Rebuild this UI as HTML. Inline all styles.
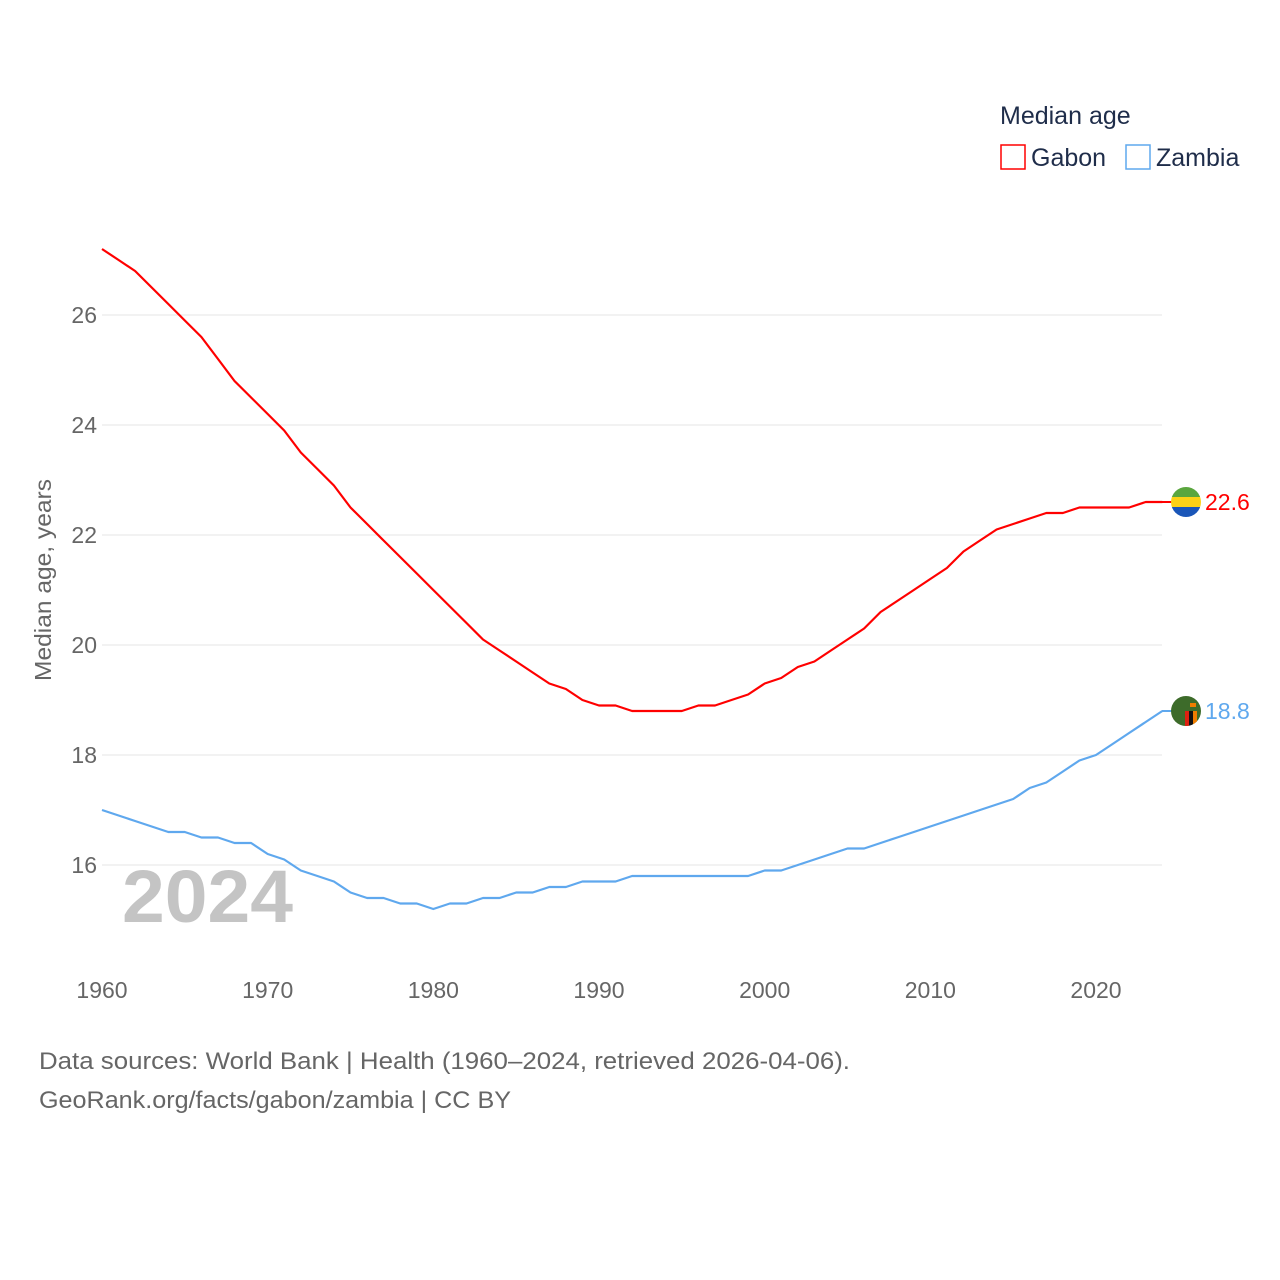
<!DOCTYPE html>
<html><head><meta charset="utf-8">
<style>
body{margin:0;background:#fff;font-family:"Liberation Sans",sans-serif;}
#wrap{position:relative;width:1280px;height:1280px;overflow:hidden}
svg text{font-family:"Liberation Sans",sans-serif}
</style></head>
<body>
<div id="wrap">
<svg id="chart" width="1280" height="1280"></svg>
</div>
<script>
const years=[];for(let y=1960;y<=2024;y++)years.push(y);
const gabon=[27.2,27.0,26.8,26.5,26.2,25.9,25.6,25.2,24.8,24.5,24.2,23.9,23.5,23.2,22.9,22.5,22.2,21.9,21.6,21.3,21.0,20.7,20.4,20.1,19.9,19.7,19.5,19.3,19.2,19.0,18.9,18.9,18.8,18.8,18.8,18.8,18.9,18.9,19.0,19.1,19.3,19.4,19.6,19.7,19.9,20.1,20.3,20.6,20.8,21.0,21.2,21.4,21.7,21.9,22.1,22.2,22.3,22.4,22.4,22.5,22.5,22.5,22.5,22.6,22.6];
const zambia=[17.0,16.9,16.8,16.7,16.6,16.6,16.5,16.5,16.4,16.4,16.2,16.1,15.9,15.8,15.7,15.5,15.4,15.4,15.3,15.3,15.2,15.3,15.3,15.4,15.4,15.5,15.5,15.6,15.6,15.7,15.7,15.7,15.8,15.8,15.8,15.8,15.8,15.8,15.8,15.8,15.9,15.9,16.0,16.1,16.2,16.3,16.3,16.4,16.5,16.6,16.7,16.8,16.9,17.0,17.1,17.2,17.4,17.5,17.7,17.9,18.0,18.2,18.4,18.6,18.8];
const yTicks=[16,18,20,22,24,26];
const xTicks=[1960,1970,1980,1990,2000,2010,2020];
const X=y=>102+(y-1960)*(994/60);
const Y=v=>865-(v-16)*55;
const svg=document.getElementById('chart');
const NS='http://www.w3.org/2000/svg';
function mk(tag,attrs,txt){const e=document.createElementNS(NS,tag);for(const k in attrs)e.setAttribute(k,attrs[k]);if(txt!=null)e.textContent=txt;svg.appendChild(e);return e;}
yTicks.forEach(t=>{
 const g=mk('line',{x1:102,x2:1162,y1:Y(t),y2:Y(t),stroke:'#e6e6e6','stroke-width':1});
 
 
 const l=mk('text',{x:97,y:Y(t)+8,'text-anchor':'end','font-size':23,fill:'#666'},t);
 
 
});
xTicks.forEach(t=>{
 const l=mk('text',{x:X(t),y:998,'text-anchor':'middle','font-size':23,fill:'#666'},t);
 
 
});
const yt=mk('text',{x:0,y:0,transform:'translate(51,580) rotate(-90)','text-anchor':'middle','font-size':23,fill:'#666',textLength:202,lengthAdjust:'spacingAndGlyphs'},'Median age, years');


const yr=mk('text',{x:122,y:922,'font-size':74,'font-weight':'bold',fill:'#c4c4c4',textLength:171,lengthAdjust:'spacingAndGlyphs'},'2024');


function line(data,color,name){
 const d=data.map((v,i)=>(i?'L':'M')+X(years[i]).toFixed(1)+','+Y(v).toFixed(1)).join(' ');
 const p=mk('path',{d:d,fill:'none',stroke:color,'stroke-width':2.2,'stroke-linejoin':'round'});
 
 
}
line(zambia,'#5fa8ee','zambia-line');
line(gabon,'#ff0000','gabon-line');
const gl=gabon[gabon.length-1], zl=zambia[zambia.length-1];
const gy=Y(gl), zy=Y(zl);
mk('line',{x1:1162,x2:1172,y1:gy,y2:gy,stroke:'#ff0000','stroke-width':2});
mk('line',{x1:1162,x2:1172,y1:zy,y2:zy,stroke:'#5fa8ee','stroke-width':2});
const defs=mk('defs',{});
const cp=document.createElementNS(NS,'clipPath');cp.setAttribute('id','cg');
const cc=document.createElementNS(NS,'circle');cc.setAttribute('cx',1186);cc.setAttribute('cy',gy);cc.setAttribute('r',15);cp.appendChild(cc);defs.appendChild(cp);
const cp2=document.createElementNS(NS,'clipPath');cp2.setAttribute('id','cz');
const cc2=document.createElementNS(NS,'circle');cc2.setAttribute('cx',1186);cc2.setAttribute('cy',zy);cc2.setAttribute('r',15);cp2.appendChild(cc2);defs.appendChild(cp2);
const gf=mk('g',{'clip-path':'url(#cg)'});
[['#5aa63e',0],['#fcd116',10],['#1a56b8',20]].forEach(([c,o])=>{const r=document.createElementNS(NS,'rect');r.setAttribute('x',1171);r.setAttribute('y',gy-15+o);r.setAttribute('width',30);r.setAttribute('height',10);r.setAttribute('fill',c);gf.appendChild(r);});
const zf=mk('g',{'clip-path':'url(#cz)'});
[['#3d6b2a',1171,zy-15,30,30],['#de2010',1185,zy,4,15],['#111',1189,zy,4,15],['#ef7d00',1193,zy,4,15],['#ef7d00',1190,zy-8,6,4]].forEach(([c,x,y,w,h])=>{const r=document.createElementNS(NS,'rect');r.setAttribute('x',x);r.setAttribute('y',y);r.setAttribute('width',w);r.setAttribute('height',h);r.setAttribute('fill',c);zf.appendChild(r);});
const gv=mk('text',{x:1205,y:gy+8,'font-size':23,fill:'#ff0000'},gl.toFixed(1));


const zv=mk('text',{x:1205,y:zy+8,'font-size':23,fill:'#5fa8ee'},zl.toFixed(1));


const lt=mk('text',{x:1000,y:124,'font-size':25,fill:'#1f2d4a'},'Median age');


const r1=mk('rect',{x:1001,y:145,width:24,height:24,fill:'none',stroke:'#ff0000','stroke-width':1.5});


const t1=mk('text',{x:1031,y:166,'font-size':25,fill:'#1f2d4a'},'Gabon');


const r2=mk('rect',{x:1126,y:145,width:24,height:24,fill:'none',stroke:'#5fa8ee','stroke-width':1.5});


const t2=mk('text',{x:1156,y:166,'font-size':25,fill:'#1f2d4a'},'Zambia');


const s1=mk('text',{x:39,y:1069,'font-size':24,fill:'#666',textLength:811,lengthAdjust:'spacingAndGlyphs'},'Data sources: World Bank | Health (1960–2024, retrieved 2026-04-06).');


const s2=mk('text',{x:39,y:1108,'font-size':24,fill:'#666',textLength:472,lengthAdjust:'spacingAndGlyphs'},'GeoRank.org/facts/gabon/zambia | CC BY');


</script>
</body></html>
